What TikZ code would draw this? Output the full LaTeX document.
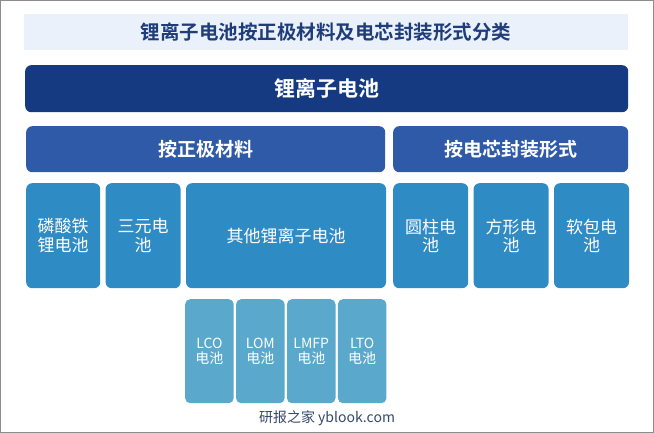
\documentclass[tikz,border=0pt]{standalone}
\usepackage{fontspec}
\setmainfont{Noto Sans CJK SC}[BoldFont={Noto Sans CJK SC Bold}]
\usepackage{xcolor}
\definecolor{colorFrame}{HTML}{8C8C8C}
\definecolor{colorTitleBg}{HTML}{EAF1FB}
\definecolor{colorTitle}{HTML}{1F3D7A}
\definecolor{colorRoot}{HTML}{163A82}
\definecolor{colorGroup}{HTML}{2F5AA8}
\definecolor{colorKind}{HTML}{2F8BC4}
\definecolor{colorSub}{HTML}{5AA8CB}
\definecolor{colorMark}{HTML}{34486A}
\usetikzlibrary{positioning}

\begin{document}
\begin{tikzpicture}[x=1pt, y=-1pt, node distance=5pt, every node/.style={inner sep=0pt, align=center},
  box/.style={rounded corners=6pt, text=white},
  root/.style={box, fill=colorRoot, minimum width=603pt, minimum height=47pt, font=\bfseries\fontsize{21}{24}\selectfont},
  group/.style={box, fill=colorGroup, minimum height=46pt, font=\bfseries\fontsize{19}{22}\selectfont},
  kind/.style={box, fill=colorKind, minimum width=75pt, minimum height=105pt, font=\fontsize{17}{18.5}\selectfont},
  sub/.style={box, rounded corners=5pt, fill=colorSub, minimum width=48.5pt, minimum height=104pt, font=\fontsize{14}{15.5}\selectfont}]
\useasboundingbox (0,0) rectangle (654,433);
\draw[colorFrame] (0.5,0.5) rectangle (653.5,432.5);
\node[fill=colorTitleBg, minimum width=604pt, minimum height=36pt, anchor=north west, text=colorTitle, font=\bfseries\fontsize{19.5}{22}\selectfont] (title) at (24,14) {锂离子电池按正极材料及电芯封装形式分类};
\node[root, anchor=north west] (ion) at (25,65) {锂离子电池};
\node[group, anchor=north west, minimum width=359pt] (cathode) at (26,126) {按正极材料};
\node[group, anchor=north west, minimum width=235pt] (package) at (393,126) {按电芯封装形式};
\node[kind, anchor=north west, minimum width=74pt] (lfp) at (26,183) {磷酸铁\\锂电池};
\node[kind, right=of lfp] (ncm) {三元电\\池};
\node[kind, right=of ncm, minimum width=200pt] (other) {其他锂离子电池};
\node[kind, anchor=north west] (round) at (393,183) {圆柱电\\池};
\node[kind, right=of round] (square) {方形电\\池};
\node[kind, right=of square] (pouch) {软包电\\池};
\node[sub, anchor=north west] (lco) at (185,299) {LCO\\电池};
\node[sub, right=2pt of lco] (lom) {LOM\\电池};
\node[sub, right=2pt of lom] (lmfp) {LMFP\\电池};
\node[sub, right=2pt of lmfp] (lto) {LTO\\电池};
\node[text=colorMark, font=\fontsize{14}{16}\selectfont] (mark) at (327,418) {研报之家 yblook.com};
\end{tikzpicture}
\end{document}
